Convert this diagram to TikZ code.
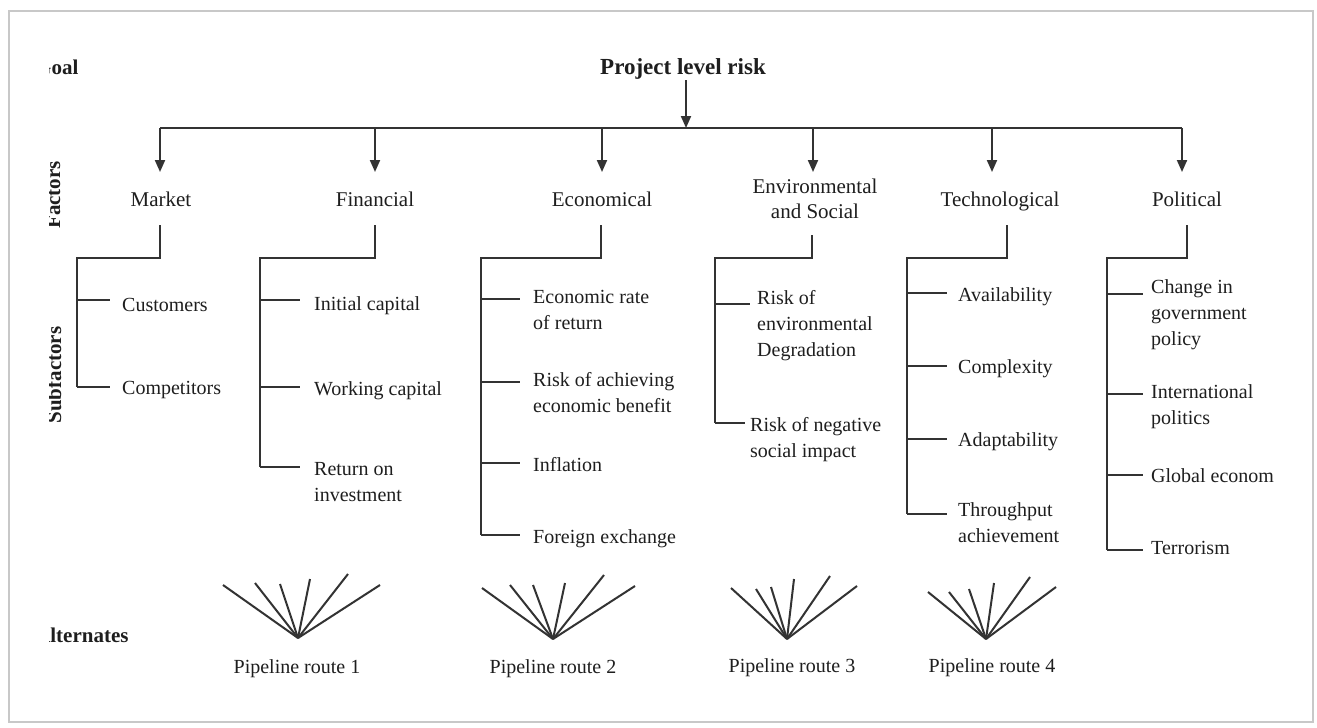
\documentclass[tikz,border=0pt]{standalone}
\usepackage{fontspec}
\setmainfont{Liberation Serif}
\usetikzlibrary{arrows.meta}
\definecolor{ink}{HTML}{1E1E1E}
\definecolor{lnc}{HTML}{333333}
\definecolor{framec}{HTML}{C8C8C8}
\tikzset{
  ln/.style={draw=lnc, line width=2pt},
  arr/.style={ln, -{Triangle[length=12pt,width=10pt]}},
  fac/.style={font=\fontsize{21}{25}\selectfont, text=ink, inner sep=0pt, align=center},
  subf/.style={font=\fontsize{20}{26}\selectfont, text=ink, inner sep=0pt, align=left, anchor=base west},
  lvl/.style={font=\bfseries\fontsize{21}{25}\selectfont, text=ink, inner sep=0pt},
  route/.style={font=\fontsize{20}{26}\selectfont, text=ink, inner sep=0pt, anchor=base},
}
\begin{document}
\begin{tikzpicture}[x=1pt,y=-1pt]
\useasboundingbox (0,0) rectangle (1317,728);
\fill[white] (0,0) rectangle (1317,728);
\draw[framec, line width=2pt] (9,11) rectangle (1313,722);

% level labels (cut at the left edge as in the source)
\begin{scope}
\clip (49,0) rectangle (160,728);
\node[lvl, anchor=base west] (gl) at (35,74) {Goal};
\node[lvl, rotate=90, anchor=base] (fl) at (60,195) {Factors};
\node[lvl, rotate=90, anchor=base] (sl) at (61,375) {Subfactors};
\node[lvl, anchor=base west] (al) at (35,642) {Alternates};
\end{scope}

% goal
\node[lvl, font=\bfseries\fontsize{23}{27}\selectfont, anchor=base] (goal) at (683,74) {Project level risk};
\coordinate (g0) at (686,80);
\coordinate (g1) at (686,128);
\draw[arr] (g0) -- (g1);

% factors
\node[fac, anchor=base] (mk)   at (161,206) {Market};
\node[fac, anchor=base] (fin)  at (375,206) {Financial};
\node[fac, anchor=base] (eco)  at (602,206) {Economical};
\node[fac] (env)  at (815,199) {Environmental\\and Social};
\node[fac, anchor=base] (tech) at (1000,206) {Technological};
\node[fac, anchor=base] (pol)  at (1187,206) {Political};

% bus and arrows
\coordinate (b1) at (160,128);  \coordinate (t1) at (160,172);
\coordinate (b2) at (375,128);  \coordinate (t2) at (375,172);
\coordinate (b3) at (602,128);  \coordinate (t3) at (602,172);
\coordinate (b4) at (813,128);  \coordinate (t4) at (813,172);
\coordinate (b5) at (992,128);  \coordinate (t5) at (992,172);
\coordinate (b6) at (1182,128); \coordinate (t6) at (1182,172);
\draw[ln] (b1) -- (b6);
\foreach \i in {1,...,6} \draw[arr] (b\i) -- (t\i);

% factor stems and spines
\draw[ln] (160,225) -- (160,258) -- (77,258) -- (77,387);
\draw[ln] (375,225) -- (375,258) -- (260,258) -- (260,467);
\draw[ln] (601,225) -- (601,258) -- (481,258) -- (481,535);
\draw[ln] (812,235) -- (812,258) -- (715,258) -- (715,423);
\draw[ln] (1007,225) -- (1007,258) -- (907,258) -- (907,514);
\draw[ln] (1187,225) -- (1187,258) -- (1107,258) -- (1107,550);

% subfactors: name / spine x / branch y / branch end x / text x / first-line centre y / lines / text
\foreach \nm/\sx/\by/\ex/\tx/\cy/\nl/\txt in {
 s11/77/300/110/122/305/1/{Customers},
 s12/77/387/110/122/388/1/{Competitors},
 s21/260/300/300/314/304/1/{Initial capital},
 s22/260/387/300/314/389/1/{Working capital},
 s23/260/467/300/314/469/2/{Return on\\investment},
 s31/481/299/520/533/297/2/{Economic rate\\of return},
 s32/481/382/520/533/380/2/{Risk of achieving\\economic benefit},
 s33/481/463/520/533/465/1/{Inflation},
 s34/481/535/520/533/537/1/{Foreign exchange},
 s41/715/304/750/757/298/3/{Risk of\\environmental\\Degradation},
 s42/715/423/745/750/425/2/{Risk of negative\\social impact},
 s51/907/293/947/958/295/1/{Availability},
 s52/907/366/947/958/367/1/{Complexity},
 s53/907/439/947/958/440/1/{Adaptability},
 s54/907/514/947/958/510/2/{Throughput\\achievement},
 s61/1107/294/1143/1151/287/3/{Change in\\government\\policy},
 s62/1107/394/1143/1151/392/2/{International\\politics},
 s63/1107/475/1143/1151/476/1/{Global econom},
 s64/1107/550/1143/1151/548/1/{Terrorism}}
{
  \node[subf] (\nm) at (\tx,\cy+6+26*\nl-26) {\txt};
  \coordinate (\nm s) at (\sx,\by);
  \coordinate (\nm e) at (\ex,\by);
  \draw[ln] (\nm s) -- (\nm e);
}

% alternatives
\coordinate (r1) at (298,638);
\coordinate (r2) at (553,639);
\coordinate (r3) at (787,639);
\coordinate (r4) at (986,639);
\foreach \p in {(223,585),(255,583),(280,584),(310,579),(348,574),(380,585)} \draw[ln] (r1) -- \p;
\foreach \p in {(482,588),(510,585),(533,585),(565,583),(604,575),(635,586)} \draw[ln] (r2) -- \p;
\foreach \p in {(731,588),(756,589),(771,587),(794,579),(830,576),(857,586)} \draw[ln] (r3) -- \p;
\foreach \p in {(928,592),(949,592),(969,589),(994,583),(1030,577),(1056,587)} \draw[ln] (r4) -- \p;
\node[route] (p1) at (297,673) {Pipeline route 1};
\node[route] (p2) at (553,673) {Pipeline route 2};
\node[route] (p3) at (792,672) {Pipeline route 3};
\node[route] (p4) at (992,672) {Pipeline route 4};
\end{tikzpicture}
\end{document}
